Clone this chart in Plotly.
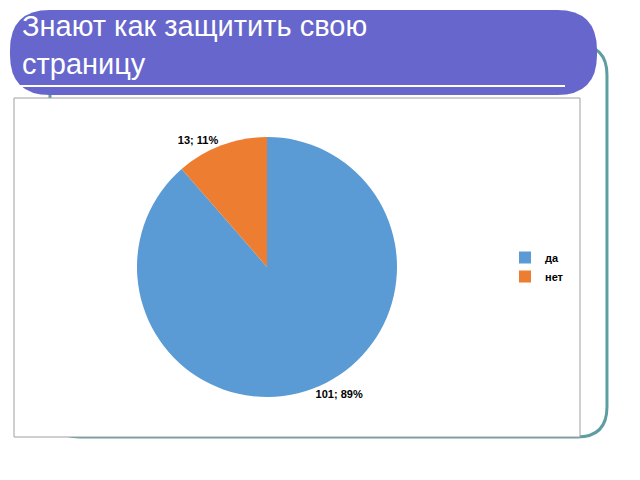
import plotly.graph_objects as go

labels = ["да", "нет"]
values = [101, 13]
colors = ["#5B9BD5", "#ED7D31"]

W, H = 640, 480
OFF = 8  # page body margin offset


def px(x, y):
    return f"{(x - OFF) / W:.4f},{1 - (y - OFF) / H:.4f}"


def fx(x):
    return (x - OFF) / W


def fy(y):
    return 1 - (y - OFF) / H


def rounded(x0, y0, x1, y1, r):
    return (f"M{px(x0 + r, y0)} L{px(x1 - r, y0)} Q{px(x1, y0)} {px(x1, y0 + r)} "
            f"L{px(x1, y1 - r)} Q{px(x1, y1)} {px(x1 - r, y1)} L{px(x0 + r, y1)} "
            f"Q{px(x0, y1)} {px(x0, y1 - r)} L{px(x0, y0 + r)} Q{px(x0, y0)} {px(x0 + r, y0)} Z")


fig = go.Figure(go.Pie(
    labels=labels, values=values, marker=dict(colors=colors),
    sort=False, direction="clockwise", rotation=0,
    texttemplate="<b>%{value}; %{percent:.0%}</b>", textposition="outside",
    textfont=dict(family="Arial", size=11, color="black"),
    domain=dict(x=[fx(137), fx(397)], y=[fy(397), fy(137)]),
    showlegend=True,
))

shapes = [
    dict(type="path", path=rounded(50, 45, 607, 437, 30), xref="paper", yref="paper",
         line=dict(color="#5F9EA0", width=3), fillcolor="white", layer="below"),
    dict(type="path", path=rounded(10, 10, 597, 95, 40), xref="paper", yref="paper",
         line=dict(width=0), fillcolor="#6666CC", layer="below"),
    dict(type="line", x0=fx(20), x1=fx(565), y0=fy(86), y1=fy(86), xref="paper", yref="paper",
         line=dict(color="white", width=2), layer="below"),
    dict(type="rect", x0=fx(14), x1=fx(580), y0=fy(98), y1=fy(437), xref="paper", yref="paper",
         line=dict(color="#A0A0A0", width=1), fillcolor="white", layer="below"),
]

fig.update_layout(
    width=W, height=H, margin=dict(l=0, r=0, t=0, b=0),
    paper_bgcolor="white", plot_bgcolor="white", shapes=shapes,
    legend=dict(x=fx(505), y=fy(243), xanchor="left", yanchor="top",
                font=dict(family="Arial", size=11, color="black"), tracegroupgap=8,
                itemwidth=30),
    annotations=[dict(text="Знают как защитить свою<br>страницу", x=fx(20), y=fy(8),
                      xref="paper", yref="paper", xanchor="left", yanchor="top", align="left",
                      showarrow=False, font=dict(family="Liberation Sans", size=29, color="white"))],
)
fig.for_each_trace(lambda t: t.update(labels=[f"<b>{l}</b>" for l in labels]))

fig.write_html("out.html")
